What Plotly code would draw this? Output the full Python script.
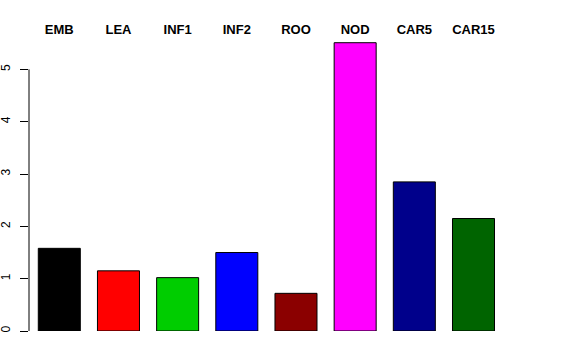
import plotly.graph_objects as go

categories = ["EMB", "LEA", "INF1", "INF2", "ROO", "NOD", "CAR5", "CAR15"]
values = [1.58, 1.15, 1.02, 1.50, 0.72, 5.51, 2.85, 2.15]
colors = ["#000000", "#FF0000", "#00CD00", "#0000FF", "#8B0000", "#FF00FF", "#00008B", "#006400"]
y_ticks = [0, 1, 2, 3, 4, 5]

fig = go.Figure()
fig.add_trace(go.Bar(
    x=list(range(len(categories))),
    y=values,
    width=0.71,
    marker=dict(color=colors, line=dict(color="#000000", width=1)),
    hoverinfo="skip",
))

fig.update_layout(
    width=576, height=360,
    margin=dict(l=29, r=67, t=38, b=29, autoexpand=False),
    paper_bgcolor="white", plot_bgcolor="white",
    showlegend=False,
    font=dict(family="Liberation Sans, Arial, sans-serif", color="black"),
    xaxis=dict(
        range=[-0.512, 7.6],
        side="top",
        automargin=False,
        tickmode="array",
        tickvals=list(range(len(categories))),
        ticktext=["<b>%s</b>" % c for c in categories],
        tickfont=dict(size=13, color="black"),
        ticks="", showline=False, showgrid=False, zeroline=False,
    ),
    yaxis=dict(
        range=[0, 5.6],
        automargin=False,
        tickmode="array",
        tickvals=y_ticks,
        ticktext=[str(t) for t in y_ticks],
        tickangle=-90,
        tickfont=dict(size=12, color="black"),
        ticks="outside", ticklen=8, tickcolor="black", tickwidth=1,
        ticklabelstandoff=5,
        showline=False, showgrid=False, zeroline=False,
    ),
    shapes=[dict(type="line", xref="paper", yref="y", x0=0, x1=0,
                 y0=min(y_ticks), y1=max(y_ticks),
                 line=dict(color="black", width=1))],
)

fig.write_html("out.html", config={"displayModeBar": False},
               post_script="document.body.style.margin='0';document.body.style.overflow='hidden';")
